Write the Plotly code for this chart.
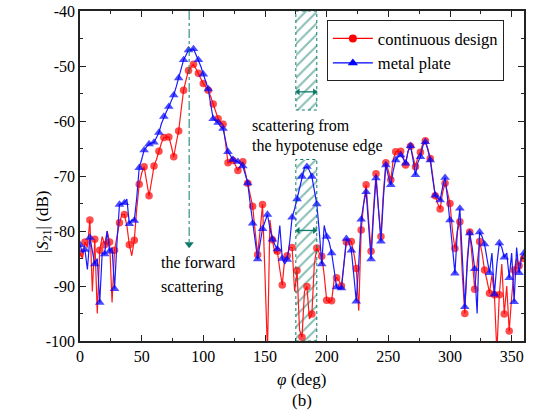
import plotly.graph_objects as go

# ---------------- data (2-degree sampling) ----------------
phi = list(range(0, 362, 2))

continuous_design = [
    -84, -85, -82, -83, -78, -91, -81.5, -95, -83.5, -81,      # 0-18
    -82.5, -80, -82, -93, -83.5, -81, -78.5, -77, -77, -79,    # 20-38
    -82.5, -84.5, -81.7, -76, -71.5, -69.5, -68.3, -71, -73.6, -71,  # 40-58
    -68.2, -67, -65.5, -64, -63, -63, -62.9, -64.5, -66.5, -64,  # 60-78
    -61.8, -58, -54.4, -52.5, -50.8, -50.2, -49.7, -50.5, -51.3, -52.3,  # 80-98
    -53.2, -53.8, -54.4, -55.6, -56.9, -58.2, -59.6, -60.2, -60.6, -64,  # 100-118
    -67.6, -67.4, -67.2, -68, -69, -68.2, -67.4, -69.3, -71.3, -73.4,  # 120-138
    -75.5, -80, -84.3, -80, -75.2, -88, -102, -78, -81.6, -84,  # 140-158
    -83.7, -87, -89.8, -85, -84.5, -83, -83, -91, -87.2, -98,  # 160-178
    -99.3, -91, -90.1, -96, -95.1, -86, -83.1, -84, -84.6, -88,  # 180-198
    -92.6, -93, -92.7, -89, -88.5, -89, -90, -86, -82, -82,  # 200-218
    -81.9, -84, -86.8, -94.5, -79.8, -75, -71.6, -78, -83.7, -76,  # 220-238
    -69.6, -76, -81, -73, -67.6, -69, -70.7, -67, -65.6, -65.5,  # 240-258
    -65.5, -66.5, -68, -65.5, -64.6, -66.5, -68.3, -66.5, -65.7, -64,  # 260-278
    -63.6, -65, -66.8, -70, -73.6, -75, -76, -73, -71.3, -73,  # 280-298
    -75, -80, -83.2, -80, -78.3, -88, -95, -85, -80.2, -85,  # 300-318
    -90.6, -86, -81.9, -84, -87.1, -89, -91.3, -88, -91.6, -102,  # 320-338
    -91.6, -86, -95.1, -90, -98.2, -92, -87.1, -85, -86.3, -84.5,  # 340-358
    -85,  # 360
]

metal_plate = [
    -82.5, -84, -83.4, -87, -81.2, -84, -86, -85, -93, -84,  # 0-18
    -84.2, -80, -83.7, -83, -90.5, -82, -75.2, -75, -74.9, -74.2,  # 20-38
    -78.7, -78, -78.1, -74, -68.5, -67, -65.3, -64.7, -64.2, -64,  # 40-58
    -63.9, -63, -62.1, -60.5, -59.2, -58.3, -57.4, -56.3, -55.3, -53.8,  # 60-78
    -52.2, -50.5, -48.9, -48, -47.1, -47, -46.9, -47.9, -48.9, -50.1,  # 80-98
    -51.5, -52.8, -54.2, -57, -59.6, -60, -60.3, -61, -61.4, -63.5,  # 100-118
    -65.6, -66.3, -67, -67.2, -67.4, -67.8, -68.2, -69.7, -71.3, -75,  # 120-138
    -78.6, -82, -85.1, -82.3, -79.6, -78.3, -77, -79.5, -81.5, -82.5,  # 140-158
    -83.3, -79, -85, -86, -85.2, -82, -77.5, -76, -74.2, -72,  # 160-178
    -70.1, -68.5, -68.3, -69, -70.1, -72.5, -75.1, -80, -86, -79,  # 180-198
    -81, -82, -84, -87, -90.2, -90.5, -90.4, -86, -81.4, -82,  # 200-218
    -83.5, -88, -92.8, -86, -77.9, -75, -72.9, -79, -85.1, -77,  # 220-238
    -70.4, -76, -81.9, -74, -68, -70, -71.6, -69, -67.1, -66.5,  # 240-258
    -66.2, -66.8, -67.7, -65.5, -64.5, -67, -69.8, -67.5, -66.5, -64.5,  # 260-278
    -63.8, -65.2, -67.1, -70.5, -73.5, -74, -74.4, -72, -70.3, -74,  # 280-298
    -78, -83, -87.7, -80, -75.9, -85, -93.8, -86, -80.4, -83,  # 300-318
    -86.9, -95, -80.2, -81, -82.4, -85, -87.6, -84, -91.5, -86,  # 320-338
    -82.2, -83, -84.8, -84, -88.5, -84, -92.9, -83, -87.6, -85,  # 340-358
    -84,  # 360
]

series_names = ["continuous design", "metal plate"]
x_tickvals = [0, 50, 100, 150, 200, 250, 300, 350]
x_ticktext = ["0", "50", "100", "150", "200", "250", "300", "350"]
y_tickvals = [-100, -90, -80, -70, -60, -50, -40]
y_ticktext = ["-100", "-90", "-80", "-70", "-60", "-50", "-40"]

# annotation geometry (data coordinates)
hatch_x0, hatch_x1 = 175, 192
hatch_upper = (-58, -40)
hatch_lower = (-100, -67)
arrow_levels = (-54.7, -79.9)
forward_x = 88.5
forward_tip = -83.0

TEAL = "#0d7a68"
FONT = "Liberation Serif, Times New Roman, serif"

# markers only every 4 degrees
red_sizes = [7.5 if p % 4 == 0 else 0 for p in phi]
blue_sizes = [8.5 if p % 4 == 0 else 0 for p in phi]

fig = go.Figure()

# hatched regions
hc = (hatch_x0 + hatch_x1) / 2
fig.add_trace(go.Bar(
    x=[hc, hc],
    y=[hatch_upper[1] - hatch_upper[0], hatch_lower[1] - hatch_lower[0]],
    base=[hatch_upper[0], hatch_lower[0]],
    width=[hatch_x1 - hatch_x0] * 2,
    marker=dict(color="white", line=dict(width=0),
                pattern=dict(shape="/", fgcolor=TEAL, bgcolor="white", size=8, solidity=0.25)),
    showlegend=False, hoverinfo="skip",
))

fig.add_trace(go.Scatter(
    x=phi, y=continuous_design, mode="lines+markers",
    line=dict(color="#ff1a1a", width=1.2),
    marker=dict(symbol="circle", color="#ff0000", size=red_sizes, line=dict(width=0)),
    showlegend=False,
))
fig.add_trace(go.Scatter(
    x=phi, y=metal_plate, mode="lines+markers",
    line=dict(color="#1a1aff", width=1.2),
    marker=dict(symbol="triangle-up", color="#0000ff", size=blue_sizes, line=dict(width=0)),
    showlegend=False,
))
# legend entries
fig.add_trace(go.Scatter(
    x=[None], y=[None], mode="lines+markers", name=series_names[0],
    line=dict(color="#ff0000", width=1.2),
    marker=dict(symbol="circle", color="#ff0000", size=8),
))
fig.add_trace(go.Scatter(
    x=[None], y=[None], mode="lines+markers", name=series_names[1],
    line=dict(color="#0000ff", width=1.2),
    marker=dict(symbol="triangle-up", color="#0000ff", size=9),
))

# dotted borders of hatched regions
for lo, hi in (hatch_upper, hatch_lower):
    fig.add_shape(type="rect", xref="x", yref="y", x0=hatch_x0, x1=hatch_x1, y0=lo, y1=hi,
                  line=dict(color=TEAL, width=1, dash="dot"), fillcolor="rgba(0,0,0,0)")

# double arrows inside hatched regions (line + two arrowheads)
for yy in arrow_levels:
    fig.add_shape(type="line", xref="x", yref="y", x0=hatch_x0 + 1.5, x1=hatch_x1 - 1.5, y0=yy, y1=yy,
                  line=dict(color=TEAL, width=1.3))
    fig.add_trace(go.Scatter(
        x=[hatch_x0 + 1.8, hatch_x1 - 1.8], y=[yy, yy], mode="markers",
        marker=dict(symbol=["triangle-left", "triangle-right"], size=6, color=TEAL),
        showlegend=False, hoverinfo="skip", cliponaxis=False,
    ))

# forward scattering dash-dot line with arrowhead
fig.add_shape(type="line", xref="x", yref="y", x0=forward_x, x1=forward_x, y0=-40, y1=forward_tip + 1,
              line=dict(color=TEAL, width=1, dash="dashdot"))
fig.add_trace(go.Scatter(
    x=[forward_x], y=[forward_tip + 0.6], mode="markers",
    marker=dict(symbol="triangle-down", size=8, color=TEAL),
    showlegend=False, hoverinfo="skip",
))

txt_font = dict(family=FONT, size=16, color="black")
for t, yy in (("the forward", -85.8), ("scattering", -90.2)):
    fig.add_annotation(x=64.2, y=yy, xref="x", yref="y", text=t, showarrow=False,
                       xanchor="left", yanchor="middle", font=txt_font)
for t, yy in (("scattering from", -60.9), ("the hypotenuse edge", -64.5)):
    fig.add_annotation(x=138, y=yy, xref="x", yref="y", text=t, showarrow=False,
                       xanchor="left", yanchor="middle", font=txt_font)

title_font = dict(family=FONT, size=17, color="black")
# axis titles and caption
fig.add_annotation(x=-0.081, y=0.36, xref="paper", yref="paper", text="|<i>S</i><sub>21</sub>| (dB)",
                   textangle=-90, showarrow=False, xanchor="center", yanchor="middle", font=title_font)
fig.add_annotation(x=0.5, y=-0.117, xref="paper", yref="paper", text="<i>φ</i> (deg)",
                   showarrow=False, xanchor="center", yanchor="middle", font=title_font)
fig.add_annotation(x=0.5, y=-0.18, xref="paper", yref="paper", text="(b)", showarrow=False,
                   xanchor="center", yanchor="middle", font=title_font)

axis_common = dict(showline=True, linecolor="#222222", linewidth=1.5, mirror="ticks",
                   ticks="inside", ticklen=6, tickwidth=1.2, tickcolor="#222222",
                   showgrid=False, zeroline=False, automargin=False,
                   ticklabeloverflow="allow",
                   tickfont=dict(family=FONT, size=16, color="black"))

fig.update_layout(
    width=535, height=417,
    margin=dict(l=80, r=11, t=11, b=76),
    paper_bgcolor="white", plot_bgcolor="white",
    bargap=0,
    xaxis=dict(range=[0, 360], tickvals=x_tickvals, ticktext=x_ticktext,
               minor=dict(dtick=25, tick0=0, ticks="inside", ticklen=3, tickcolor="#222222"),
               **axis_common),
    yaxis=dict(range=[-100, -40], tickvals=y_tickvals, ticktext=y_ticktext,
               minor=dict(dtick=5, tick0=0, ticks="inside", ticklen=3, tickcolor="#222222"),
               **axis_common),
    legend=dict(x=0.556, y=0.972, xanchor="left", yanchor="top",
                bgcolor="white", bordercolor="#222222", borderwidth=1,
                font=dict(family=FONT, size=16.5, color="black"),
                tracegroupgap=0, itemwidth=40),
    showlegend=True,
)

# remove the browser's default 8 px page margin so the figure sits at the window origin
fig.write_html("out.html", config={"displayModeBar": False},
               post_script="document.body.style.margin='0px';")
